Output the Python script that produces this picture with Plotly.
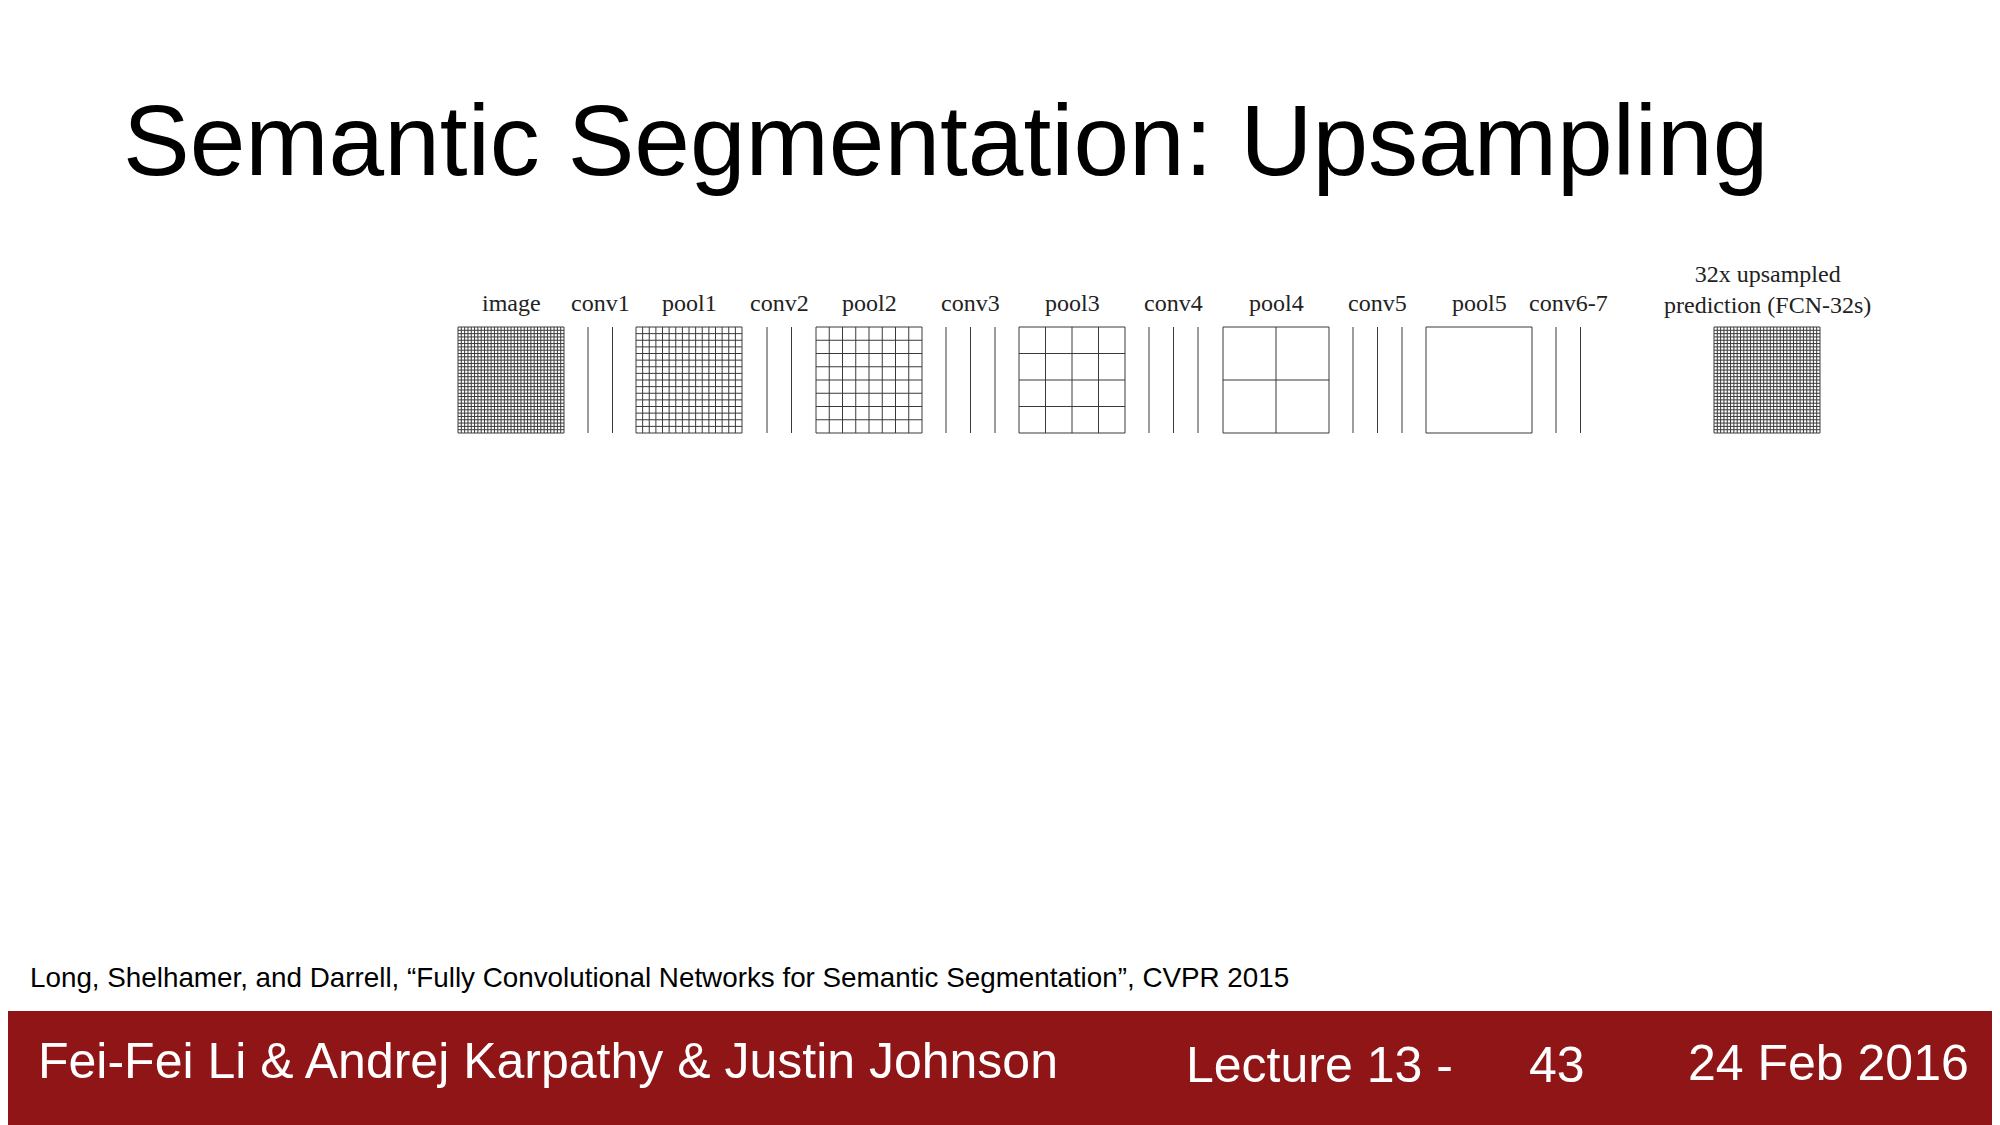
import plotly.graph_objects as go

# layers of the FCN-32s diagram
layers = ['image', 'conv1', 'pool1', 'conv2', 'pool2', 'conv3', 'pool3',
          'conv4', 'pool4', 'conv5', 'pool5', 'conv6-7', 'prediction']
kinds = ['grid', 'conv', 'grid', 'conv', 'grid', 'conv', 'grid',
         'conv', 'grid', 'conv', 'grid', 'conv', 'grid']
cells = [32, 2, 16, 2, 8, 3, 4, 3, 2, 3, 1, 2, 32]  # grid cells or conv line count
labels = ['image', 'conv1', 'pool1', 'conv2', 'pool2', 'conv3', 'pool3',
          'conv4', 'pool4', 'conv5', 'pool5', 'conv6-7',
          '32x upsampled<br>prediction (FCN-32s)']

# layout positions (pixels)
left = [458, 588, 636, 767, 816, 946, 1019, 1149, 1223, 1353, 1426, 1556, 1714]
box = 106
top, bot = 327, 433
conv_gap = 24.5
off = 8  # page body margin

fig = go.Figure()
xs, ys = [], []
label_x = []
for kind, n, x0 in zip(kinds, cells, left):
    if kind == 'grid':
        for i in range(n + 1):
            p = x0 + box * i / n
            xs += [p, p, None]
            ys += [top, bot, None]
            q = top + box * i / n
            xs += [x0, x0 + box, None]
            ys += [q, q, None]
        label_x.append(x0 + box / 2)
    else:
        for i in range(n):
            p = x0 + conv_gap * i
            xs += [p, p, None]
            ys += [top, bot, None]
        label_x.append(x0 + conv_gap * (n - 1) / 2)

fig.add_trace(go.Scatter(x=xs, y=ys, mode='lines',
                         line=dict(color='#3a3a3a', width=1), hoverinfo='skip'))

for lx, lab in zip(label_x, labels):
    fig.add_annotation(x=lx, y=303 if '<br>' not in lab else 289, text=lab,
                       showarrow=False, yanchor='middle',
                       font=dict(family='Liberation Serif', size=24, color='#222'))

fig.add_annotation(x=121, y=140, text='Semantic Segmentation: Upsampling', showarrow=False,
                   xanchor='left', yanchor='middle',
                   font=dict(family='Liberation Sans', size=100, color='black'))
fig.add_annotation(x=28, y=977, text='Long, Shelhamer, and Darrell, “Fully Convolutional Networks for Semantic Segmentation”, CVPR 2015',
                   showarrow=False, xanchor='left', yanchor='middle',
                   font=dict(family='Liberation Sans', size=27.8, color='black'))

fig.add_shape(type='rect', x0=-50, x1=2100, y0=1011, y1=1200, fillcolor='#8f1517',
              line=dict(width=0), layer='below')
foot = dict(family='Liberation Sans', size=50, color='white')
fig.add_annotation(x=36, y=1061, text='Fei-Fei Li & Andrej Karpathy & Justin Johnson',
                   showarrow=False, xanchor='left', yanchor='middle', font=foot)
fig.add_annotation(x=1184, y=1065, text='Lecture 13 -', showarrow=False,
                   xanchor='left', yanchor='middle', font=foot)
fig.add_annotation(x=1527, y=1065, text='43', showarrow=False,
                   xanchor='left', yanchor='middle', font=foot)
fig.add_annotation(x=1971, y=1063, text='24 Feb 2016', showarrow=False,
                   xanchor='right', yanchor='middle', font=foot)

fig.update_layout(width=2000, height=1125, margin=dict(l=0, r=0, t=0, b=0),
                  paper_bgcolor='white', plot_bgcolor='white', showlegend=False,
                  xaxis=dict(range=[off, 2000 + off], visible=False, fixedrange=True),
                  yaxis=dict(range=[1125 + off, off], visible=False, fixedrange=True))

fig.write_html('out.html')
